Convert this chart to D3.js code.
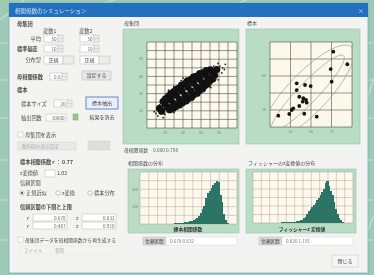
<!DOCTYPE html>
<html lang="ja">
<head>
<meta charset="utf-8">
<script src="https://d3js.org/d3.v7.min.js"></script>
<style>
  body { margin: 0; background: #9ccab5; overflow: hidden; }
  svg { display: block; filter: blur(0.3px); }
  text { font-family: "Noto Sans CJK JP", "Noto Sans", sans-serif; }
</style>
</head>
<body>
<div id="container"></div>
<script>
// ---- data ----
// population scatter (dense cloud, estimated)
const popTicks = [0, 10, 20, 30, 40, 50, 60, 70, 80, 90, 100]
const popLabels = [20, 40, 60, 80]
const popCore = [
  [16.3, 19.6], [13.9, 22.8],
  [25.1, 21.2], [22.7, 24.4], [20.3, 27.6], [17.9, 30.8],
  [32.1, 25.2], [29.4, 28.8], [26.4, 32.8], [23.7, 36.4],
  [39.1, 29.2], [36.1, 33.2], [32.5, 38.0], [29.5, 42.0],
  [45.5, 34.0], [42.5, 38.0], [38.9, 42.8], [35.9, 46.8],
  [51.9, 38.8], [48.9, 42.8], [45.3, 47.6], [42.3, 51.6],
  [58.3, 43.6], [55.3, 47.6], [51.7, 52.4], [48.7, 56.4],
  [64.1, 49.2], [61.4, 52.8], [58.4, 56.8], [55.7, 60.4],
  [69.9, 54.8], [67.5, 58.0], [65.1, 61.2], [62.7, 64.4],
  [75.1, 61.2], [72.7, 64.4], [70.3, 67.6],
  [77.5, 68.0],
  [20.5, 34.0], [28.9, 22.8], [26.3, 39.6], [35.9, 26.8],
  [32.4, 44.8], [42.6, 31.2], [38.5, 50.0], [49.3, 35.6],
  [44.9, 54.8], [55.7, 40.4], [51.6, 59.2], [61.8, 45.6],
  [58.6, 63.2], [67.6, 51.2], [65.9, 66.8], [73.1, 57.2]
]
const popStray = [
  [10, 17], [12, 14], [81, 72], [84, 70], [79, 75], [60, 67], [30, 18], [50, 33],
  [38, 55], [70, 50], [22, 40], [76, 57], [18, 12], [66, 70], [44, 30], [56, 62],
  [14, 27], [20, 16], [28, 19], [34, 22], [46, 29], [54, 37], [62, 43], [71, 47],
  [79, 56], [83, 64], [74, 72], [64, 69], [52, 63], [40, 58], [30, 48], [18, 35],
  [87, 74], [8, 19], [24, 44], [86, 68]
]
// sample scatter (20 points)
const sampleTicksX = [0, 25, 50, 75, 100]
const sampleTicksY = [0, 20, 40, 60, 80, 100]
const samplePoints = [
  [77.2, 88.6], [94.3, 73.8], [74.0, 68.2], [75.2, 53.3], [32.6, 51.4],
  [42.7, 49.4], [49.6, 48.2], [32.6, 43.5], [35.7, 35.6], [40.6, 33.8],
  [43.9, 31.8], [39.9, 29.8], [44.8, 28.6], [35.7, 24.7], [28.4, 22.0],
  [26.5, 20.0], [23.5, 15.3], [41.8, 15.6], [57.0, 12.1], [10.1, 13.3]
]
const ellipseCenter = [46, 40]
const ellipseAxes = [[76, 24], [62, 12]]   // semi-axes in data units
// histogram of sample r
const rTicksX = [-0.1, 0, 0.1, 0.2, 0.3, 0.4, 0.5, 0.6, 0.7, 0.8, 0.9, 1.0]
const histTicksY = [0, 100, 200, 300, 400, 500, 600]
const rBinWidth = 0.02
const rBins = [0.21, 0.23, 0.25, 0.27, 0.29, 0.31, 0.33, 0.35, 0.37, 0.39, 0.41, 0.43,
  0.45, 0.47, 0.49, 0.51, 0.53, 0.55, 0.57, 0.59, 0.61, 0.63, 0.65, 0.67, 0.69, 0.71,
  0.73, 0.75, 0.77, 0.79, 0.81, 0.83, 0.85, 0.87, 0.89, 0.91]
const rCounts = [2, 3, 4, 5, 6, 8, 9, 11, 13, 15, 18, 21,
  25, 30, 36, 44, 55, 70, 95, 130, 170, 210, 300, 360, 380, 420,
  445, 470, 500, 480, 330, 250, 120, 50, 15, 4]
// histogram of Fisher z
const zTicksX = [-1, -0.75, -0.5, -0.25, 0, 0.25, 0.5, 0.75, 1, 1.25, 1.5, 1.75, 2]
const zBinWidth = 0.05
const zBins = [-0.575, -0.525, -0.475, -0.425, -0.375, -0.325, -0.275, -0.225, -0.175,
  -0.125, -0.075, -0.025, 0.025, 0.075, 0.125, 0.175, 0.225, 0.275, 0.325, 0.375,
  0.425, 0.475, 0.525, 0.575, 0.625, 0.675, 0.725, 0.775, 0.825, 0.875, 0.925,
  0.975, 1.025, 1.075, 1.125, 1.175, 1.225, 1.275, 1.325, 1.375, 1.425, 1.475,
  1.525, 1.575, 1.625, 1.675, 1.725]
const zCounts = [1, 1, 2, 2, 3, 3, 4, 5, 5, 6, 7, 8, 9, 10, 12, 13, 15, 17, 20, 25,
  32, 40, 55, 75, 110, 140, 160, 185, 210, 240, 270, 300, 330, 360, 400, 470, 500,
  440, 380, 330, 250, 170, 110, 60, 30, 10, 3]

const green = '#b9dcc4', cream = '#fdf8ec', teal = '#2c7566'

const svg = d3.select('#container').append('svg')
  .attr('width', 374).attr('height', 275)

// background with light streaks
svg.append('rect').attr('width', 374).attr('height', 275).attr('fill', '#9ccab5')
;[[0, 43, 374, 43], [0, 80, 374, 80], [0, 118, 374, 118], [0, 160, 374, 160],
  [0, 200, 374, 200], [0, 240, 374, 240], [0, 20, 30, -5], [95, 6, 130, -5],
  [230, 6, 260, -5], [360, 120, 380, 60], [360, 250, 380, 200]]
  .forEach(l => svg.append('line')
    .attr('x1', l[0]).attr('y1', l[1]).attr('x2', l[2]).attr('y2', l[3])
    .attr('stroke', '#c3e0d2').attr('stroke-width', 1.2))

// window
svg.append('rect').attr('x', 9).attr('y', 3).attr('width', 359).attr('height', 270)
  .attr('fill', '#f3f4f2').attr('stroke', '#7fa9c9').attr('stroke-width', 0.8)
svg.append('rect').attr('x', 9).attr('y', 3).attr('width', 359).attr('height', 14)
  .attr('fill', '#2370bd')
svg.append('text').attr('x', 15).attr('y', 12.5).attr('font-size', 5.5)
  .attr('fill', '#cfe2f5').text('相関係数のシミュレーション')
svg.append('text').attr('x', 361).attr('y', 12.5).attr('font-size', 6)
  .attr('fill', '#cfe2f5').attr('text-anchor', 'middle').text('×')

// ---- small helpers for the form controls ----
let label = (x, y, t, o = {}) => svg.append('text')
  .attr('x', x).attr('y', y).attr('font-size', o.size || 5.2)
  .attr('font-weight', o.bold ? 'bold' : 'normal')
  .attr('text-anchor', o.anchor || 'start')
  .attr('fill', o.color || '#4a4a4a').text(t)
let box = (x, y, w, h, fill, stroke) => svg.append('rect')
  .attr('x', x).attr('y', y).attr('width', w).attr('height', h)
  .attr('fill', fill || '#ffffff').attr('stroke', stroke || '#b9b9b9').attr('stroke-width', 0.5)
let input = (x, y, w, h, v) => {
  box(x, y, w, h)
  if (v) label(x + w - 1.5, y + h - 1.5, v, { anchor: 'end', size: 4.6, color: '#666' })
}
let spinner = (x, y, h) => {
  box(x, y, 5, h, '#ececec')
  svg.append('line').attr('x1', x).attr('x2', x + 5).attr('y1', y + h / 2).attr('y2', y + h / 2)
    .attr('stroke', '#b9b9b9').attr('stroke-width', 0.4)
}
let button = (x, y, w, h, t, o = {}) => {
  box(x, y, w, h, o.fill || '#e6e6e6', o.stroke || '#b5b5b5')
    .attr('stroke-width', o.sw || 0.5)
  label(x + w / 2, y + h / 2 + 1.9, t, { anchor: 'middle', size: 5, color: o.color || '#444' })
}

// ---- left control panel ----
label(17, 26, '母集団', { bold: true })
label(43, 33, '変数1')
label(79, 33, '変数2')
label(41, 41, '平均', { anchor: 'end' })
input(44, 35, 14, 7, '50'); spinner(58, 35, 7)
input(80, 35, 14, 7, '50'); spinner(94, 35, 7)
label(17, 51, '標準偏差', { bold: true })
input(44, 45, 14, 7, '10'); spinner(58, 45, 7)
input(80, 45, 14, 7, '10'); spinner(94, 45, 7)
label(41, 62, '分布型', { anchor: 'end' })
button(44, 56, 19, 8, '正規', { fill: '#fff' }); box(63, 56, 11, 8, '#ececec')
button(80, 56, 19, 8, '正規', { fill: '#fff' }); box(99, 56, 11, 8, '#ececec')
label(17, 79, '母相関係数', { bold: true })
input(50, 73, 12, 7, '0.8'); spinner(62, 73, 7)
button(82, 71, 29, 9, '設定する')
label(17, 92, '標本', { bold: true })
label(21, 106, '標本サイズ')
input(54, 100, 13, 7, '20'); spinner(67, 100, 7)
button(86, 97, 32, 12, '標本抽出', { stroke: '#5a78c8', sw: 0.9, fill: '#e9eef8' })
label(21, 120, '抽出回数')
input(46, 114, 20, 7, '10000')
box(73, 114, 5, 6, '#9bc58f', '#7aa66f')
button(87, 112, 30, 10, '結果を消去', { fill: '#f3f4f2', stroke: '#f3f4f2' })
box(18, 132, 5, 5)
label(25, 137, '母集団を表示')
box(18, 142, 58, 8, '#e9e9e9', '#d0d0d0')
label(22, 148, '散布図の表示設定', { size: 4.6, color: '#aaa' })
button(88, 141, 22, 9, '', { fill: '#dedede', stroke: '#d0d0d0' })

label(20, 164, '標本相関係数 r ： 0.77', { bold: true })
label(20, 175, 'z変換値')
input(45, 170, 10, 7)
label(57, 175, '1.02')
label(20, 185, '信頼区間')
svg.append('circle').attr('cx', 22).attr('cy', 193).attr('r', 2.2)
  .attr('fill', '#fff').attr('stroke', '#888').attr('stroke-width', 0.5)
svg.append('circle').attr('cx', 22).attr('cy', 193).attr('r', 1.1).attr('fill', '#444')
label(26, 195, '正規近似')
svg.append('circle').attr('cx', 58).attr('cy', 193).attr('r', 2.2)
  .attr('fill', '#fff').attr('stroke', '#888').attr('stroke-width', 0.5)
label(62, 195, 'z変換')
svg.append('circle').attr('cx', 90).attr('cy', 193).attr('r', 2.2)
  .attr('fill', '#fff').attr('stroke', '#888').attr('stroke-width', 0.5)
label(94, 195, '標本分布')
label(20, 209, '信頼区間の下限と上限', { bold: true })
label(27, 220, 'r')
input(33, 214, 34, 7, '0.678')
label(76, 220, 'z')
input(82, 214, 34, 7, '0.832')
label(27, 228, 'r')
input(33, 222, 34, 7, '0.487')
label(76, 228, 'z')
input(82, 222, 34, 7, '0.910')
box(18, 237, 5, 5)
label(25, 242, '母集団データを母相関係数から再生成する', { size: 4.8 })
label(24, 252, 'ファイル', { size: 4.6, color: '#aaa' })
label(55, 252, '参照', { size: 4.6, color: '#aaa' })
box(20, 246, 98, 8, 'none', '#e2e2e2')
button(332, 255, 26, 12, '閉じる', { fill: '#f5f5f5', stroke: '#c4c4c4' })

// ---- plot panels ----
let frame = (x, y, w, h) => svg.append('rect')
  .attr('x', x).attr('y', y).attr('width', w).attr('height', h)
  .attr('fill', green).attr('stroke', '#9cc4a9').attr('stroke-width', 0.6)

let plotArea = (xs, ys, xt, yt, gridColor, gw) => {
  const g = svg.append('g')
  g.append('rect')
    .attr('x', xs.range()[0]).attr('y', ys.range()[1])
    .attr('width', xs.range()[1] - xs.range()[0])
    .attr('height', ys.range()[0] - ys.range()[1])
    .attr('fill', cream)
  g.selectAll('null').data(xt).enter().append('line')
    .attr('x1', d => xs(d)).attr('x2', d => xs(d))
    .attr('y1', ys.range()[0]).attr('y2', ys.range()[1])
    .attr('stroke', gridColor).attr('stroke-width', gw)
  g.selectAll('null').data(yt).enter().append('line')
    .attr('y1', d => ys(d)).attr('y2', d => ys(d))
    .attr('x1', xs.range()[0]).attr('x2', xs.range()[1])
    .attr('stroke', gridColor).attr('stroke-width', gw)
  return g
}
let tickText = (x, y, t, anchor) => svg.append('text')
  .attr('x', x).attr('y', y).attr('font-size', 3.6).attr('fill', '#7a8f82')
  .attr('text-anchor', anchor).text(t)

// population scatter
label(124, 25, '母集団', { size: 5 })
frame(123, 29, 116, 115)
const px = d3.scaleLinear([0, 100], [147, 237])
const py = d3.scaleLinear([0, 100], [128, 42])
plotArea(px, py, popTicks, popTicks, '#3d3d3d', 0.55)
popLabels.forEach(v => {
  tickText(143, py(v) + 1.2, v, 'end')
  tickText(px(v), 134, v, 'middle')
})
svg.append('g').selectAll('circle').data(popCore).enter().append('circle')
  .attr('cx', d => px(d[0])).attr('cy', d => py(d[1])).attr('r', 3.6).attr('fill', '#111')
svg.append('g').selectAll('circle').data(popStray).enter().append('circle')
  .attr('cx', d => px(d[0])).attr('cy', d => py(d[1])).attr('r', 0.9).attr('fill', '#222')
label(124, 152, '母相関係数', { size: 4.8 })
label(153, 152, '0.800  0.798', { size: 4.8, color: '#666' })

// sample scatter
label(247, 25, '標本', { size: 5 })
frame(246, 29, 114, 115)
const sx = d3.scaleLinear([0, 100], [270, 352])
const sy = d3.scaleLinear([0, 100], [127, 42])
plotArea(sx, sy, sampleTicksX, sampleTicksY, '#3d3d3d', 0.55)
;[25, 50, 75].forEach(v => tickText(sx(v), 133, v, 'middle'))
;[20, 60].forEach(v => tickText(266, sy(v) + 1.2, v, 'end'))
svg.append('clipPath').attr('id', 'sclip').append('rect')
  .attr('x', 270).attr('y', 42).attr('width', 82).attr('height', 85)
const phi = Math.PI / 4
const thetas = d3.range(0, 2 * Math.PI, Math.PI / 60)
ellipseAxes.forEach(([a, b]) => {
  const pts = thetas.map(t => [
    ellipseCenter[0] + a * Math.cos(t) * Math.cos(phi) - b * Math.sin(t) * Math.sin(phi),
    ellipseCenter[1] + a * Math.cos(t) * Math.sin(phi) + b * Math.sin(t) * Math.cos(phi)
  ])
  svg.append('path').attr('clip-path', 'url(#sclip)')
    .attr('d', d3.line().x(d => sx(d[0])).y(d => sy(d[1])).curve(d3.curveLinearClosed)(pts))
    .attr('fill', 'none').attr('stroke', '#8a8a8a').attr('stroke-width', 0.6)
})
svg.append('g').selectAll('circle').data(samplePoints).enter().append('circle')
  .attr('cx', d => sx(d[0])).attr('cy', d => sy(d[1])).attr('r', 1.9).attr('fill', '#151515')

// histogram of r
label(128, 165, '相関係数の分布', { size: 5 })
frame(128, 169, 111, 64)
const hx = d3.scaleLinear([-0.1, 1.0], [140, 237])
const hy = d3.scaleLinear([0, 600], [224, 172])
plotArea(hx, hy, rTicksX, histTicksY, '#a89a9a', 0.45)
;[200, 400].forEach(v => tickText(138, hy(v) + 1.2, v, 'end'))
svg.append('g').attr('shape-rendering', 'crispEdges')
  .selectAll('rect').data(rBins).enter().append('rect')
  .attr('x', d => hx(d - rBinWidth / 2))
  .attr('width', d => hx(d + rBinWidth / 2) - hx(d - rBinWidth / 2) + 0.6)
  .attr('y', (d, i) => hy(rCounts[i]))
  .attr('height', (d, i) => hy(0) - hy(rCounts[i]))
  .attr('fill', teal)
label(188, 230.5, '標本相関係数', { size: 4.8, bold: true, anchor: 'middle', color: '#333' })
box(143, 237, 23, 8, '#d9d9d9', '#bcbcbc')
label(154.5, 243, '信頼区間', { size: 4.6, anchor: 'middle', color: '#333' })
box(166, 237, 71, 8, '#fff', '#d6d6d6')
label(170, 243, '0.678    0.832', { size: 4.6, color: '#777' })

// histogram of Fisher z
label(248, 165, 'フィッシャーのz変換値の分布', { size: 5 })
frame(246, 169, 110, 64)
const zx = d3.scaleLinear([-1, 2], [253, 353])
const zy = d3.scaleLinear([0, 600], [223, 172])
plotArea(zx, zy, zTicksX, histTicksY, '#a89a9a', 0.45)
svg.append('g').attr('shape-rendering', 'crispEdges')
  .selectAll('rect').data(zBins).enter().append('rect')
  .attr('x', d => zx(d - zBinWidth / 2))
  .attr('width', d => zx(d + zBinWidth / 2) - zx(d - zBinWidth / 2) + 0.6)
  .attr('y', (d, i) => zy(zCounts[i]))
  .attr('height', (d, i) => zy(0) - zy(zCounts[i]))
  .attr('fill', teal)
label(302, 230.5, 'フィッシャーz 変換値', { size: 4.8, bold: true, anchor: 'middle', color: '#333' })
box(259, 237, 23, 8, '#d9d9d9', '#bcbcbc')
label(270.5, 243, '信頼区間', { size: 4.6, anchor: 'middle', color: '#333' })
box(282, 237, 71, 8, '#fff', '#d6d6d6')
label(286, 243, '0.826    1.191', { size: 4.6, color: '#777' })
</script>
</body>
</html>
